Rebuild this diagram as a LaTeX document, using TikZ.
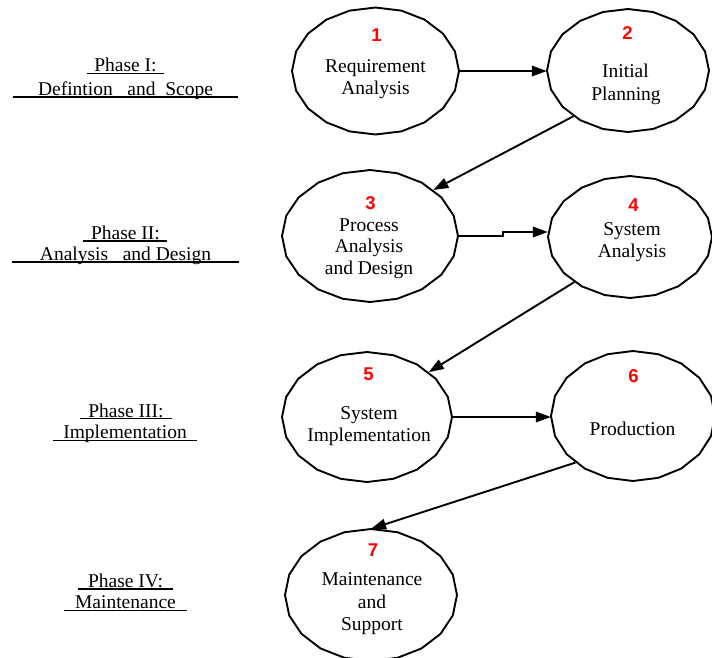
\documentclass[tikz,border=0pt]{standalone}
\usepackage{fontspec}
\setmainfont{Liberation Serif}
\newfontfamily\numfont{Liberation Sans}
\usetikzlibrary{arrows.meta,shapes.geometric}
\begin{document}
\begin{tikzpicture}[x=1pt,y=-1pt,
  ring/.style={ellipse,draw=none,inner sep=0pt},
  ringline/.style={line width=1.9pt,line join=round},
  conn/.style={line width=1.9pt,-{Triangle[length=15pt,width=10.5pt]}},
  num/.style={inner sep=0pt,text=red,font=\numfont\bfseries\fontsize{18.5}{20}\selectfont},
  body/.style={inner sep=0pt,anchor=base,font=\fontsize{19.5}{23}\selectfont},
  phase/.style={inner sep=0pt,anchor=base,font=\fontsize{19.5}{23}\selectfont},
  uline/.style={line width=1.5pt}]
\useasboundingbox (0,0) rectangle (712,657);

% stage rings: invisible ellipse nodes for anchoring, outlined as 20-sided polygons
\foreach \n/\cx/\cy/\rx/\ry in {n1/375.5/71/83.5/63.5, n2/628/70.5/81/61.5,
    n3/370/236/88/66, n4/630/237/82/61, n5/367/417/85/65,
    n6/633/416/82/65, n7/371/595/86/66} {
  \node[ring,minimum width={2*\rx*1pt},minimum height={2*\ry*1pt}] (\n) at (\cx,\cy) {};
  \draw[ringline,shift={(\cx,\cy)}] plot[domain=0:360,samples=21] ({\rx*cos(\x)},{\ry*sin(\x)}) -- cycle;
}

% stage numbers
\node[num] (k1) at (376.5,35) {1};
\node[num] (k2) at (627.5,33.5) {2};
\node[num] (k3) at (370.5,203.5) {3};
\node[num] (k4) at (633.5,205) {4};
\node[num] (k5) at (368.5,374.5) {5};
\node[num] (k6) at (633.5,376) {6};
\node[num] (k7) at (373,550) {7};

% stage titles
\node[body] (t1a) at (375.5,72) {Requirement};
\node[body] (t1b) at (375.5,94) {Analysis};
\node[body] (t2a) at (625.5,77) {Initial};
\node[body] (t2b) at (626,100.5) {Planning};
\node[body] (t3a) at (369,231.5) {Process};
\node[body] (t3b) at (369,252.5) {Analysis};
\node[body] (t3c) at (369,274.5) {and Design};
\node[body] (t4a) at (632,235) {System};
\node[body] (t4b) at (632,257) {Analysis};
\node[body] (t5a) at (369,419.5) {System};
\node[body] (t5b) at (369,441.5) {Implementation};
\node[body] (t6a) at (632.5,435) {Production};
\node[body] (t7a) at (372,585) {Maintenance};
\node[body] (t7b) at (372,608) {and};
\node[body] (t7c) at (372,630) {Support};

% phase captions with their underlines
\node[phase] (p1a) at (125.5,71.5) {Phase I:};
\node[phase] (p1b) at (125.5,95) {Defintion\ \ \ and\ \ Scope};
\draw[uline] (87,73.5) -- (164,73.5);
\draw[uline] (13,97) -- (238,97);

\node[phase] (p2a) at (125.5,239) {Phase II:};
\node[phase] (p2b) at (125.5,260) {Analysis\ \ \ and Design};
\draw[uline] (83,241) -- (167,241);
\draw[uline] (12,262) -- (239,262);

\node[phase] (p3a) at (126,417) {Phase III:};
\node[phase] (p3b) at (125,438.5) {Implementation};
\draw[uline] (80,418.5) -- (172,418.5);
\draw[uline] (53,440.5) -- (197,440.5);

\node[phase] (p4a) at (125.5,587.5) {Phase IV:};
\node[phase] (p4b) at (125.5,608.5) {Maintenance};
\draw[uline] (78,589) -- (173,589);
\draw[uline] (64,610.5) -- (187,610.5);

% flow between stages
\draw[conn] (n1.east) -- (n1.east -| n2.west);
\draw[conn] (n2.220) -- (n3.36);
\draw[conn] (n3.east) -- ++(45,0) |- ([yshift=5pt]n4.west);
\draw[conn] (n4.219) -- (n5.36);
\draw[conn] (n5.east) -- (n5.east -| n6.west);
\draw[conn] (n6.219) -- (n7.north);
\end{tikzpicture}
\end{document}
